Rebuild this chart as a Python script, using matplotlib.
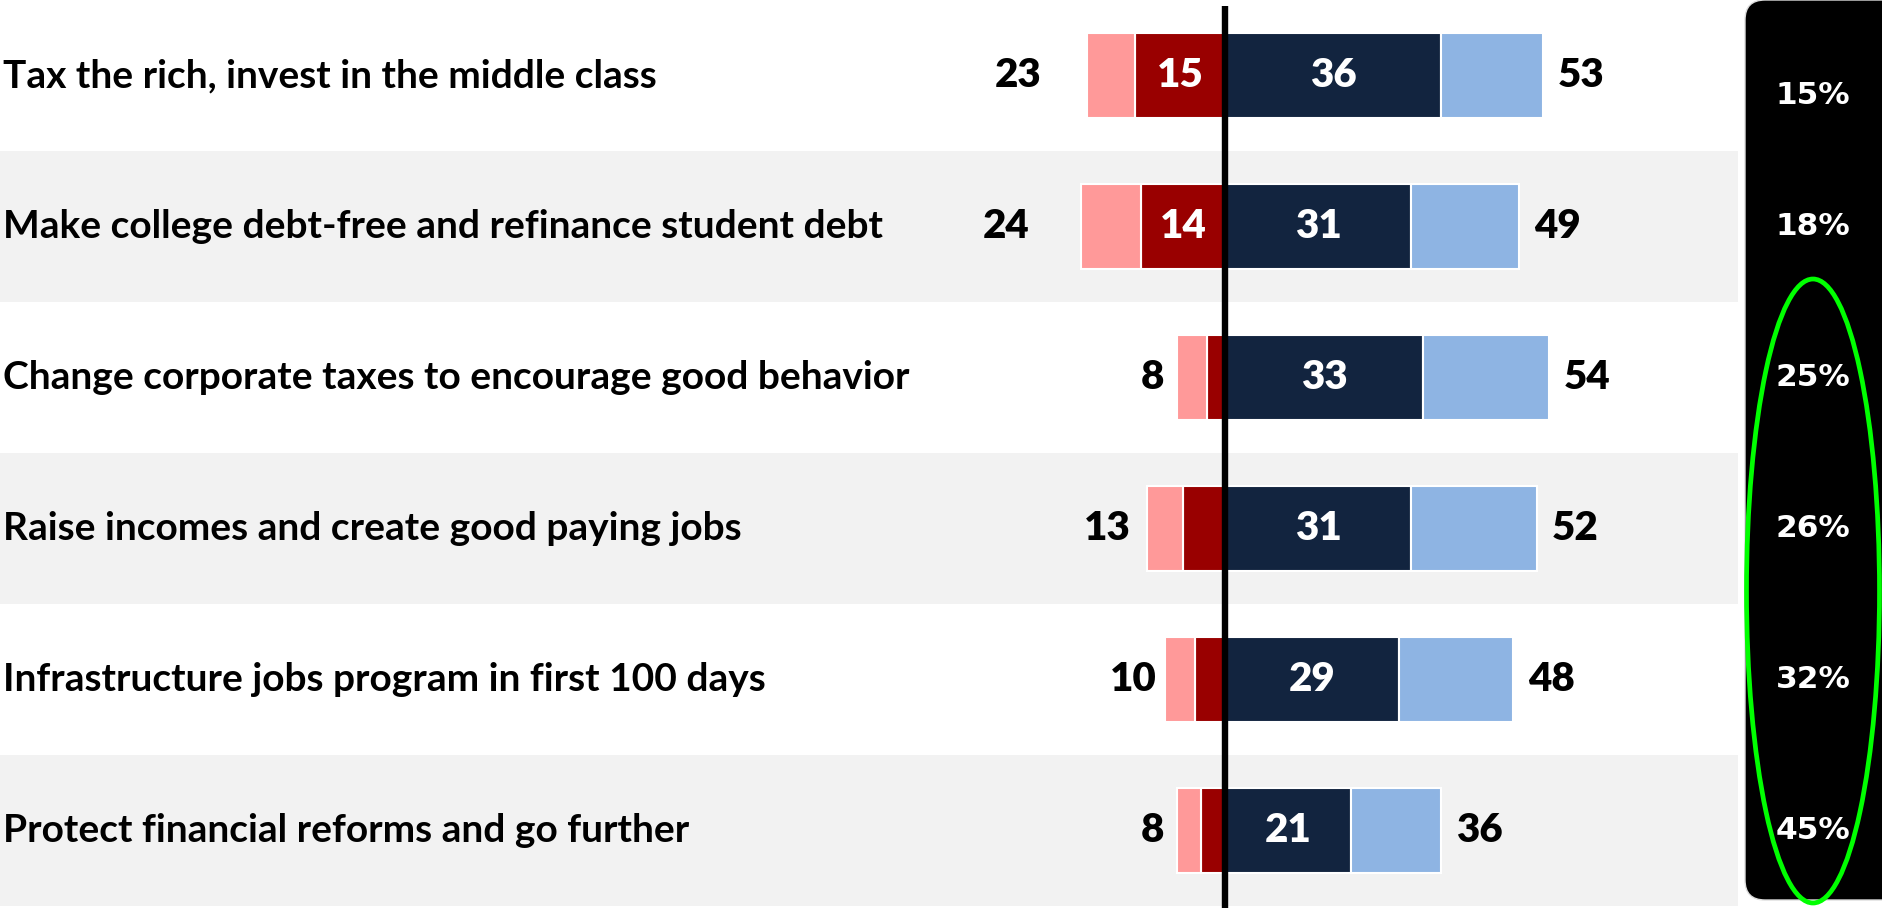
"""Diverging bar chart: support for economic proposals, with a side panel of percentages"""
import matplotlib
matplotlib.use('Agg')
import matplotlib.pyplot as plt
from matplotlib.patches import FancyBboxPatch, Ellipse

plt.rcParams['font.family'] = ['Lato', 'DejaVu Sans']

PINK = '#FF9999'
DARKRED = '#990000'
NAVY = '#12243F'
LIGHTBLUE = '#8EB4E3'
BAND = '#F2F2F2'
GREEN = '#00FF00'

# data
proposals = [
    'Tax the rich, invest in the middle class',
    'Make college debt-free and refinance student debt',
    'Change corporate taxes to encourage good behavior',
    'Raise incomes and create good paying jobs',
    'Infrastructure jobs program in first 100 days',
    'Protect financial reforms and go further',
]
oppose_total = [23, 24, 8, 13, 10, 8]
oppose_strong = [15, 14, 3, 7, 5, 4]
support_strong = [36, 31, 33, 31, 29, 21]
support_total = [53, 49, 54, 52, 48, 36]
panel_pct = ['15%', '18%', '25%', '26%', '32%', '45%']

# layout (pixel space of the 1883x908 picture)
W, H = 1883, 908
CENTER_PX = 1225
PX_PER_UNIT = 6.0
ROW_H = 151
left_gap = [7.5, 8.5, 2.2, 2.7, 1.4, 2.2]


def make():
    fig = plt.figure(figsize=(W / 100, H / 100), dpi=100)
    ax = fig.add_axes([0, 0, 1, 1])
    ax.set_xlim(-CENTER_PX / PX_PER_UNIT, (W - CENTER_PX) / PX_PER_UNIT)
    n = len(proposals)
    ax.set_ylim(n - 0.5 + (H - n * ROW_H) / ROW_H, -0.5)
    ax.axis('off')

    rows = list(range(n))

    # alternating row bands
    for i in rows:
        if i % 2 == 1:
            ax.axhspan(i - 0.5, i + 0.5, xmin=0, xmax=1738 / W, color=BAND, lw=0, zorder=0)

    soft_opp = [t - s for t, s in zip(oppose_total, oppose_strong)]
    soft_sup = [t - s for t, s in zip(support_total, support_strong)]
    bh = 0.56
    kw = dict(height=bh, edgecolor='white', linewidth=1.5, zorder=2)
    ax.barh(rows, [-v for v in oppose_strong], color=DARKRED, **kw)
    ax.barh(rows, [-v for v in soft_opp], left=[-v for v in oppose_strong], color=PINK, **kw)
    ax.barh(rows, support_strong, color=NAVY, **kw)
    ax.barh(rows, soft_sup, left=support_strong, color=LIGHTBLUE, **kw)

    # centre line
    ax.plot([0, 0], [-0.5 + 6 / ROW_H, n + 0.1], color='black', lw=4.6,
            solid_capstyle='butt', zorder=5)

    num = dict(va='center', fontsize=29, fontweight='heavy')
    for i in rows:
        ax.text(0.0015, i, proposals[i], transform=ax.get_yaxis_transform(),
                ha='left', va='center', fontsize=28, fontweight='bold', color='black')
        ax.text(-oppose_total[i] - left_gap[i], i, str(oppose_total[i]),
                ha='right', color='black', **num)
        ax.text(support_total[i] + 2.5, i, str(support_total[i]),
                ha='left', color='black', **num)
        if oppose_strong[i] >= 10:
            ax.text(-oppose_strong[i] / 2, i, str(oppose_strong[i]),
                    ha='center', color='white', zorder=6, **num)
        ax.text(support_strong[i] / 2, i, str(support_strong[i]),
                ha='center', color='white', zorder=6, **num)

    # side panel in pixel coordinates
    ov = fig.add_axes([0, 0, 1, 1], zorder=3)
    ov.set_xlim(0, W)
    ov.set_ylim(H, 0)
    ov.axis('off')
    ov.patch.set_alpha(0)
    panel = FancyBboxPatch((1765, 20), 160, 860, boxstyle='round,pad=20',
                           facecolor='black', edgecolor='#DDDDDD', linewidth=1)
    ov.add_patch(panel)
    for i, p in enumerate(panel_pct):
        y = i * ROW_H + ROW_H / 2 + (20 if i == 0 else 0)
        ov.text(1813, y, p, ha='center', va='center', fontsize=22.5, fontweight='bold',
                color='white', family='DejaVu Sans')
    ov.add_patch(Ellipse((1813, 591), 133, 624, fill=False, edgecolor=GREEN, linewidth=3.4))

    fig.savefig('out.png', dpi=100, facecolor='white')


if __name__ == '__main__':
    make()
